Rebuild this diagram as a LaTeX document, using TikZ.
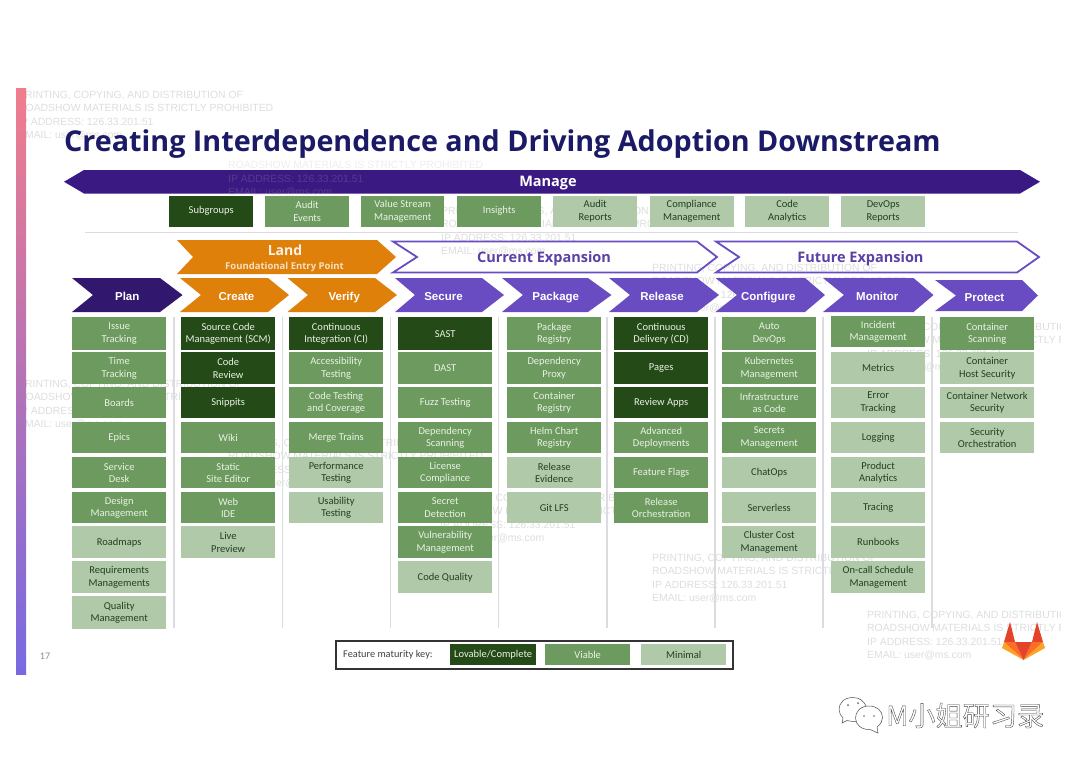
\documentclass[tikz,border=0pt]{standalone}
\usepackage{fontspec}
\setmainfont{Carlito}
\newfontfamily\titlef{Open Sans}
\newfontfamily\armf{Liberation Sans}
\newfontfamily\cjkf{Noto Sans CJK SC}
\definecolor{gdark}{HTML}{234A17}
\definecolor{gmid}{HTML}{6C9A5F}
\definecolor{glite}{HTML}{B0C9A9}
\definecolor{pdark}{HTML}{3A1A82}
\definecolor{pnav}{HTML}{32176E}
\definecolor{pmid}{HTML}{6A4CC2}
\definecolor{orng}{HTML}{DF800A}
\definecolor{navy}{HTML}{1B1A66}
\definecolor{sepc}{HTML}{DCDCE0}
\definecolor{wmc}{HTML}{DEDEDE}
\definecolor{ltxt}{HTML}{EAF2E4}
\definecolor{dtxt}{HTML}{23401F}
\tikzset{
  fbox/.style={inner sep=0pt,anchor=north west,align=center,font=\fontsize{10.5}{12.5}\selectfont},
  lov/.style={fbox,fill=gdark,text=ltxt},
  via/.style={fbox,fill=gmid,text=ltxt},
  mnl/.style={fbox,fill=glite,text=dtxt},
  sep/.style={draw=sepc,line width=1.3pt},
  wm/.style={anchor=north west,inner sep=0pt,align=left,text=wmc,font=\armf\fontsize{10.4}{13.4}\selectfont},
  stagehead/.style={text=white,font=\armf\bfseries\fontsize{11.5}{13}\selectfont,inner sep=0pt,text height=8.5pt,text depth=2.5pt,yshift=-2.5pt},
  bandhead/.style={font=\titlef\bfseries\fontsize{14.5}{16}\selectfont,inner sep=0pt},
}
\def\rowtop#1{\ifcase#1\or317\or352\or387\or422\or457\or492\or526\or561\or596\fi}
\def\rowbot#1{\ifcase#1\or350\or384\or418\or453\or488\or523\or558\or593\or629\fi}
\newcommand\rb[5]{%
  \edef\rbt{\rowtop{#3}}\edef\rbb{\rowbot{#3}}%
  \pgfmathsetmacro\rbh{\rbb-\rbt}%
  \node[#4,minimum width=94pt,minimum height=\rbh pt] (#1) at (#2,\rbt) {#5};}
\newcommand\mb[5]{\node[#4,minimum width=#3pt,minimum height=31.5pt] (#1) at (#2,195.3) {#5};}
% name, left, notch, shoulder, tip, top, bottom, path style, label style, text
\newcommand\chev[9]{%
  \path[#8] (#2,#6) -- (#4,#6) -- (#5,{(#6+#7)/2}) -- (#4,#7) -- (#2,#7) -- (#3,{(#6+#7)/2}) -- cycle;
  \node[#9] (#1) at ({(#2+#5)/2+2},{(#6+#7)/2}) }
\newcommand\wmark[3]{\node[wm] (#1) at (#2,#3) {PRINTING, COPYING, AND DISTRIBUTION OF\\ROADSHOW MATERIALS IS STRICTLY PROHIBITED\\IP ADDRESS: 126.33.201.51\\EMAIL: user@ms.com};}
\begin{document}
\begin{tikzpicture}[x=1pt,y=-1pt]
\useasboundingbox (0,0) rectangle (1080,764);
\fill[white] (0,0) rectangle (1080,764);

% watermarks lying under the slide shapes
\begin{scope}
\clip (0,0) rectangle (1060,764);
\wmark{wa}{18}{91}
\wmark{wc}{441}{207}
\wmark{wd}{652}{264}
\wmark{we}{18}{380}
\wmark{wf}{228}{439}
\wmark{wg}{440}{494}
\wmark{wh}{652}{554}
\wmark{wi}{867}{611}
\wmark{wj}{867}{323}
\end{scope}

% side bar
\shade[top color={rgb,255:red,240;green,125;blue,140},middle color={rgb,255:red,205;green,115;blue,175},bottom color={rgb,255:red,120;green,105;blue,225}] (16,88) rectangle (26,674);

% manage band
\chev{manage}{84}{64}{1020}{1040}{170}{193.5}{fill=pdark}{bandhead,text=white,xshift=-16pt,yshift=-1pt}{Manage};
\begin{scope}[opacity=.22]
\node[wm,text=black!30] (wb) at (228,161.5) {ROADSHOW MATERIALS IS STRICTLY PROHIBITED\\IP ADDRESS: 126.33.201.51\\EMAIL: user@ms.com};
\end{scope}

\node[anchor=west,inner sep=0pt,text=navy,font=\titlef\bfseries\fontsize{28.7}{32}\selectfont] (title) at (64,144) {Creating Interdependence and Driving Adoption Downstream};

\mb{subgroups}{169}{84}{lov}{Subgroups}
\mb{auditev}{265}{84}{via}{Audit\\Events}
\mb{vsm}{361}{83}{via}{Value Stream\\Management}
\mb{insights}{457}{84}{via}{Insights}
\mb{auditrep}{553}{84}{mnl}{Audit\\Reports}
\mb{compl}{649.5}{84}{mnl}{Compliance\\Management}
\mb{codean}{745}{84}{mnl}{Code\\Analytics}
\mb{devopsrep}{841}{84}{mnl}{DevOps\\Reports}

\draw[draw=sepc,line width=.8pt] (85,232.7) coordinate (rulea) -- (1018,232.7) coordinate (ruleb);

% land / expansion bands
\chev{land}{177}{193}{377}{396}{240}{274}{fill=orng}{inner sep=0pt,align=center,text=white}{};
\node[inner sep=0pt,text=white!90!orng,font=\titlef\bfseries\fontsize{14}{16}\selectfont] (landt) at (285,250) {Land};
\node[inner sep=0pt,text=white!75!orng,font=\titlef\bfseries\fontsize{9.5}{11}\selectfont] (lands) at (284.5,267.5) {Foundational Entry Point};
\chev{curr}{393}{417}{697}{717}{241.5}{272.5}{draw=pmid,line width=1.8pt}{bandhead,text=pmid!85!black,xshift=-13pt,yshift=-2pt}{Current Expansion};
\chev{futr}{716}{739}{1017}{1039}{241.5}{272.5}{draw=pmid,line width=1.8pt}{bandhead,text=pmid!85!black,xshift=-19pt,yshift=-2pt}{Future Expansion};

% stages
\chev{plan}{72}{93}{160}{182.5}{278}{312}{fill=pnav}{stagehead,xshift=-2pt}{Plan};
\chev{create}{180}{201}{268}{289}{278}{312}{fill=orng}{stagehead}{Create};
\chev{verify}{287.5}{308}{375}{397}{278}{312}{fill=orng}{stagehead}{Verify};
\chev{secure}{395}{415}{482}{504}{278}{312}{fill=pmid}{stagehead,xshift=-8pt}{Secure};
\chev{package}{502}{523}{588}{611.5}{278}{312}{fill=pmid}{stagehead,xshift=-3pt}{Package};
\chev{release}{609}{630}{697}{719}{278}{312}{fill=pmid}{stagehead,xshift=-4pt}{Release};
\chev{configure}{715.5}{737}{805}{825}{278}{312}{fill=pmid}{stagehead,xshift=-4pt}{Configure};
\chev{monitor}{823}{844}{913.5}{933.5}{278}{312}{fill=pmid}{stagehead,xshift=-3pt}{Monitor};
\chev{protect}{935}{956}{1022}{1038}{280}{311}{fill=pmid}{stagehead,xshift=-4pt}{Protect};

% separators
\draw[sep] (174,317) coordinate (sa) -- (174,628) coordinate (sb);
\draw[sep] (282.5,317) coordinate (sc) -- (282.5,628) coordinate (sd);
\draw[sep] (390.5,317) coordinate (se) -- (390.5,628) coordinate (sf);
\draw[sep] (498.7,317) coordinate (sg) -- (498.7,628) coordinate (sh);
\draw[sep] (607,317) coordinate (si) -- (607,628) coordinate (sj);
\draw[sep] (715,317) coordinate (sk) -- (715,628) coordinate (sl);
\draw[sep] (823,317) coordinate (sm) -- (823,628) coordinate (sn);
\draw[sep] (932,317) coordinate (so) -- (932,628) coordinate (sp);

% plan
\rb{issue}{72}{1}{via}{Issue\\Tracking}
\rb{time}{72}{2}{via}{Time\\Tracking}
\rb{boards}{72}{3}{via}{Boards}
\rb{epics}{72}{4}{via}{Epics}
\rb{desk}{72}{5}{via}{Service\\Desk}
\rb{design}{72}{6}{via}{Design\\Management}
\rb{roadmaps}{72}{7}{mnl}{Roadmaps}
\rb{reqs}{72}{8}{mnl}{Requirements\\Managements}
\rb{quality}{72}{9}{mnl}{Quality\\Management}
% create
\rb{scm}{181}{1}{lov}{Source Code\\Management (SCM)}
\rb{review}{181}{2}{lov}{Code\\Review}
\rb{snippits}{181}{3}{lov}{Snippits}
\rb{wiki}{181}{4}{via}{Wiki}
\rb{sse}{181}{5}{via}{Static\\Site Editor}
\rb{webide}{181}{6}{via}{Web\\IDE}
\rb{live}{181}{7}{mnl}{Live\\Preview}
% verify
\rb{ci}{289}{1}{lov}{Continuous\\Integration (CI)}
\rb{access}{289}{2}{via}{Accessibility\\Testing}
\rb{cov}{289}{3}{via}{Code Testing\\and Coverage}
\rb{merge}{289}{4}{via}{Merge Trains}
\rb{perf}{289}{5}{mnl}{Performance\\Testing}
\rb{usab}{289}{6}{mnl}{Usability\\Testing}
% secure
\rb{sast}{398}{1}{lov}{SAST}
\rb{dast}{398}{2}{via}{DAST}
\rb{fuzz}{398}{3}{via}{Fuzz Testing}
\rb{depscan}{398}{4}{via}{Dependency\\Scanning}
\rb{license}{398}{5}{via}{License\\Compliance}
\rb{secret}{398}{6}{via}{Secret\\Detection}
\rb{vuln}{398}{7}{via}{Vulnerability\\Management}
\rb{cq}{398}{8}{mnl}{Code Quality}
% package
\rb{pkg}{507}{1}{via}{Package\\Registry}
\rb{proxy}{507}{2}{via}{Dependency\\Proxy}
\rb{creg}{507}{3}{via}{Container\\Registry}
\rb{helm}{507}{4}{via}{Helm Chart\\Registry}
\rb{relev}{507}{5}{mnl}{Release\\Evidence}
\rb{lfs}{507}{6}{mnl}{Git LFS}
% release
\rb{cd}{614}{1}{lov}{Continuous\\Delivery (CD)}
\rb{pages}{614}{2}{lov}{Pages}
\rb{apps}{614}{3}{lov}{Review Apps}
\rb{adv}{614}{4}{via}{Advanced\\Deployments}
\rb{flags}{614}{5}{via}{Feature Flags}
\rb{orch}{614}{6}{via}{Release\\Orchestration}
% configure
\rb{auto}{722}{1}{via}{Auto\\DevOps}
\rb{k8s}{722}{2}{via}{Kubernetes\\Management}
\rb{iac}{722}{3}{via}{Infrastructure\\as Code}
\rb{secm}{722}{4}{via}{Secrets\\Management}
\rb{chatops}{722}{5}{mnl}{ChatOps}
\rb{serverless}{722}{6}{mnl}{Serverless}
\rb{cluster}{722}{7}{mnl}{Cluster Cost\\Management}
% monitor
\node[via,minimum width=94pt,minimum height=31pt] (incident) at (831,316) {Incident\\Management};
\rb{metrics}{831}{2}{mnl}{Metrics}
\rb{errt}{831}{3}{mnl}{Error\\Tracking}
\rb{logging}{831}{4}{mnl}{Logging}
\rb{prod}{831}{5}{mnl}{Product\\Analytics}
\rb{tracing}{831}{6}{mnl}{Tracing}
\rb{runbooks}{831}{7}{mnl}{Runbooks}
\rb{oncall}{831}{8}{mnl}{On-call Schedule\\Management}
% protect
\rb{cscan}{940}{1}{via}{Container\\Scanning}
\rb{chost}{940}{2}{mnl}{Container\\Host Security}
\rb{cnet}{940}{3}{mnl}{Container Network\\Security}
\rb{sorch}{940}{4}{mnl}{Security\\Orchestration}

% legend
\draw[line width=2pt,draw=black!80] (336,641) rectangle (733,669);
\node[anchor=west,inner sep=0pt,text=black!75,font=\fontsize{10.3}{12}\selectfont] (keylab) at (343,655) {Feature maturity key:};
\node[lov,minimum width=86pt,minimum height=21pt] (keya) at (450,644) {Lovable/Complete};
\node[via,minimum width=85pt,minimum height=21pt] (keyb) at (545,644) {Viable};
\node[mnl,minimum width=85pt,minimum height=21pt] (keyc) at (641,644) {Minimal};

\node[inner sep=0pt,text=black!45,font=\fontsize{10}{12}\selectfont] (pageno) at (45,656.5) {17};

% GitLab fox
\fill[fill={rgb,255:red,226;green,67;blue,41}] (1010,622) -- (1015,642) -- (1004,642) -- cycle;
\fill[fill={rgb,255:red,226;green,67;blue,41}] (1037,622) -- (1032,642) -- (1043,642) -- cycle;
\fill[fill={rgb,255:red,252;green,109;blue,38}] (1004,642) -- (1015,642) -- (1023.5,660) -- cycle;
\fill[fill={rgb,255:red,252;green,109;blue,38}] (1043,642) -- (1032,642) -- (1023.5,660) -- cycle;
\fill[fill={rgb,255:red,226;green,67;blue,41}] (1015,642) -- (1032,642) -- (1023.5,660) -- cycle;
\fill[fill={rgb,255:red,252;green,163;blue,38}] (1004,642) -- (1002,648) -- (1023.5,660) -- cycle;
\fill[fill={rgb,255:red,252;green,163;blue,38}] (1043,642) -- (1045,648) -- (1023.5,660) -- cycle;

% WeChat mark
\draw[black!70,line width=.5pt,fill=white] (853,697.5) .. controls (844,697.5) and (839,703) .. (839,709.5) .. controls (839,713) and (841,716) .. (843,718) -- (842,723) -- (847,720.5) .. controls (852,722) and (860,722) .. (865,718) .. controls (870,712) and (866,697.5) .. (853,697.5) -- cycle;
\draw[black!70,line width=.5pt,fill=white] (869,706) .. controls (860,706) and (855.5,712) .. (855.5,718) .. controls (855.5,725) and (862,730) .. (870,729.5) -- (878,733) -- (877,727) .. controls (881,724) and (882.5,721) .. (882.5,717.5) .. controls (882.5,711) and (877,706) .. (869,706) -- cycle;
\fill[black!60] (848,705) circle[radius=1];
\fill[black!60] (858,703) circle[radius=1];
\fill[black!60] (864,716) circle[radius=.9];
\fill[black!60] (874,716) circle[radius=.9];
\node[anchor=west,inner sep=0pt,text=black!75,font=\cjkf\fontsize{27.2}{30}\selectfont] (wechat) at (886,715.5) {\special{pdf:code q 1 Tr 0.35 w}M小姐研习录\special{pdf:code Q}};
\end{tikzpicture}
\end{document}
